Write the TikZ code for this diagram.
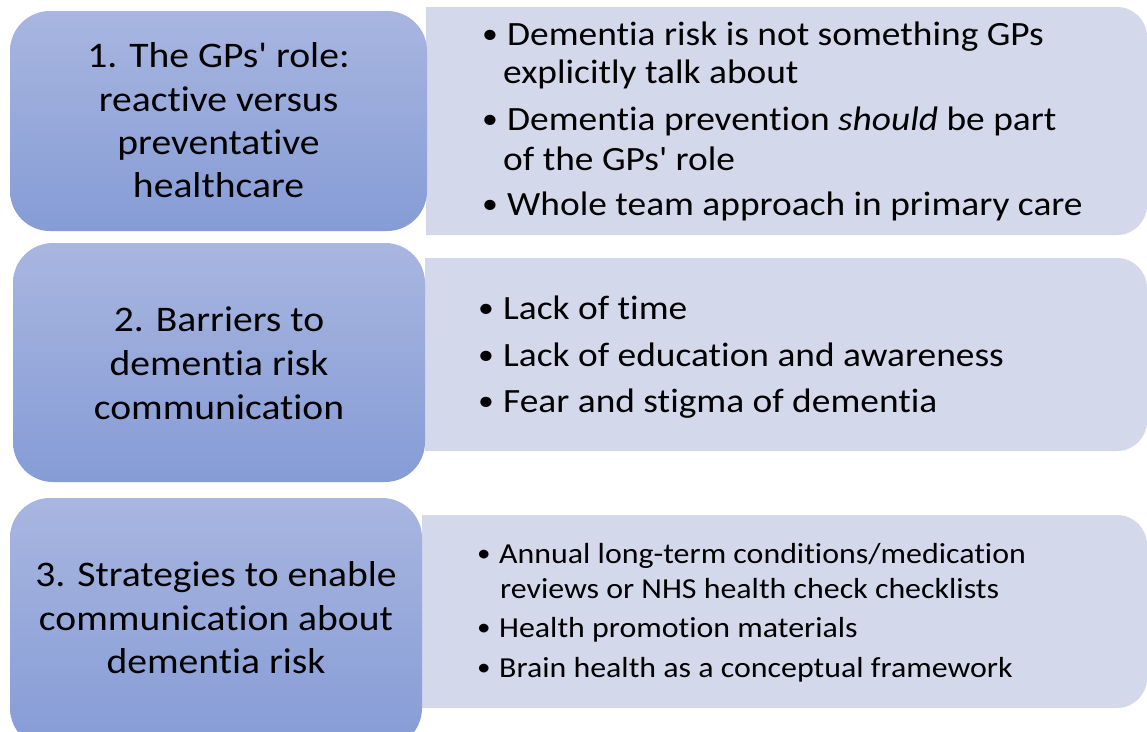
\documentclass[tikz,border=0pt]{standalone}
\usepackage{fontspec}
\setmainfont{Carlito}[FakeStretch=1.1,Ligatures={TeXOff,CommonOff}]
\definecolor{lefttop}{RGB}{168,182,224}
\definecolor{leftbot}{RGB}{134,156,214}
\definecolor{rightfill}{RGB}{211,216,235}
\newcommand{\bul}[1]{\makebox[#1][l]{\raisebox{0.05em}{\scalebox{0.85}{•}}}}
\begin{document}
\begin{tikzpicture}[x=1pt,y=-1pt,
  leftbox/.style={top color=lefttop,bottom color=leftbot,draw=none,rounded corners=40pt},
  rightbox/.style={fill=rightfill,draw=none,rounded corners=30pt},
  lefttext/.style={anchor=base,inner sep=0pt,font=\fontsize{36}{43}\selectfont},
  itemA/.style={anchor=base west,inner sep=0pt,font=\fontsize{34}{40}\selectfont},
  itemB/.style={anchor=base west,inner sep=0pt,font=\fontsize{34}{40}\selectfont},
  itemC/.style={anchor=base west,inner sep=0pt,font=\fontsize{29}{34}\selectfont}]
\useasboundingbox (0,0) rectangle (1147,731);
\fill[white] (0,0) rectangle (1147,731);
% right panels (only right corners rounded)
\begin{scope}
  \clip (426,0) rectangle (1147,731);
  \fill[rightbox] (380,7) rectangle (1147,235);
\end{scope}
\begin{scope}
  \clip (425,0) rectangle (1147,731);
  \fill[rightbox] (380,258) rectangle (1147,451);
\end{scope}
\begin{scope}
  \clip (422,0) rectangle (1147,731);
  \fill[rightbox] (380,515) rectangle (1147,708);
\end{scope}
% left boxes
\begin{scope}
  \clip (0,0) rectangle (1147,731);
  \shade[leftbox] (10,11) rectangle (427,231);
  \shade[leftbox] (13,243) rectangle (425,482);
  \shade[leftbox] (10,498) rectangle (422,748);
\end{scope}
% left texts
\node[lefttext] (l1a) at (218.5,67) {1. The GPs' role:};
\node[lefttext] (l1b) at (218.5,111) {reactive versus};
\node[lefttext] (l1c) at (218.5,154) {preventative};
\node[lefttext] (l1d) at (218.5,197) {healthcare};
\node[lefttext] (l2a) at (219,331) {2. Barriers to};
\node[lefttext] (l2b) at (219,375) {dementia risk};
\node[lefttext] (l2c) at (219,419) {communication};
\node[lefttext] (l3a) at (216,586) {3. Strategies to enable};
\node[lefttext] (l3b) at (216,630) {communication about};
\node[lefttext] (l3c) at (216,673) {dementia risk};
% right texts
\node[itemA] (r1a) at (482,45) {\bul{25pt}Dementia risk is not something GPs};
\node[itemA] (r1b) at (503,83) {explicitly talk about};
\node[itemA] (r1c) at (482,130) {\bul{25pt}Dementia prevention \textit{should} be part};
\node[itemA] (r1d) at (503,170) {of the GPs' role};
\node[itemA] (r1e) at (482,215) {\bul{25pt}Whole team approach in primary care};
\node[itemB] (r2a) at (478,319) {\bul{25pt}Lack of time};
\node[itemB] (r2b) at (478,366) {\bul{25pt}Lack of education and awareness};
\node[itemB] (r2c) at (478,412) {\bul{25pt}Fear and stigma of dementia};
\node[itemC] (r3a) at (477,563) {\bul{22pt}Annual long-term conditions/medication};
\node[itemC] (r3b) at (500,598) {reviews or NHS health check checklists};
\node[itemC] (r3c) at (477,637) {\bul{22pt}Health promotion materials};
\node[itemC] (r3d) at (477,677) {\bul{22pt}Brain health as a conceptual framework};
\end{tikzpicture}
\end{document}
